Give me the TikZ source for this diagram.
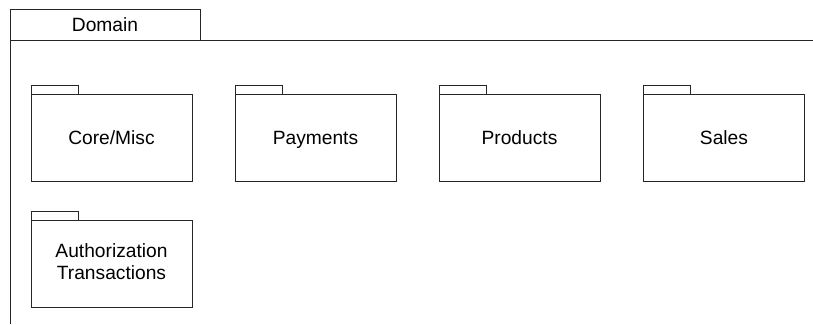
\documentclass[tikz,border=0pt]{standalone}
\usepackage{fontspec}
\setmainfont{Liberation Sans}
\usetikzlibrary{positioning}

\newcommand{\pkgstrut}{\rule[-0.25em]{0pt}{1.216em}}

\begin{document}
\begin{tikzpicture}[
    x=1pt, y=-1pt,
    frame/.style={draw=black!85, line width=0.8pt, outer sep=0pt},
    label/.style={font=\fontsize{19.2}{21.7}\selectfont,
        execute at begin node=\pkgstrut, execute at end node=\pkgstrut},
    pkg/.style={frame, label, anchor=north west, minimum width=161pt, minimum height=87pt,
        inner sep=0pt, align=center},
    tab/.style={frame}
]
\useasboundingbox (0,0) rectangle (813,324);
% Domain package frame
\node[frame, label, anchor=north west, minimum width=190pt, minimum height=31pt,
    inner sep=0pt] (domain) at (10,9) {Domain};
\draw[frame] (813,40) -- (domain.south west) -- (10,324);
% Packages, first row
\node[pkg] (core) at (31,94.5) {Core/Misc};
\node[pkg, right=43pt of core] (payments) {Payments};
\node[pkg, right=43pt of payments] (products) {Products};
\node[pkg, right=43.5pt of products] (sales) {Sales};
% Second row
\node[pkg, below=39pt of core] (auth) {Authorization\\Transactions};
% Tabs
\foreach \p in {core, payments, products, sales, auth} {
    \draw[tab] (\p.north west) rectangle ++(47,-9);
}
\end{tikzpicture}
\end{document}
